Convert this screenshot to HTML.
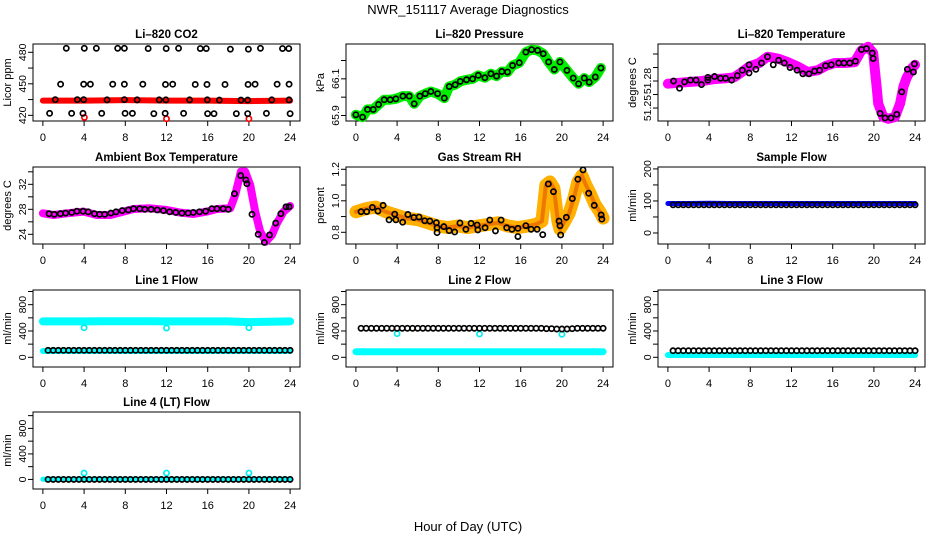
<!DOCTYPE html>
<html>
<head>
<meta charset="utf-8">
<style>
html,body{margin:0;padding:0;background:#fff;}
svg{display:block;}
text{font-family:"Liberation Sans",Arial,sans-serif;}
</style>
</head>
<body>
<svg id="chart" width="936" height="540" viewBox="0 0 936 540" xmlns="http://www.w3.org/2000/svg">
<text x="468" y="14" text-anchor="middle" font-size="13">NWR_151117  Average Diagnostics</text>
<text x="468" y="531" text-anchor="middle" font-size="13">Hour of Day (UTC)</text>
</svg>
<script>
// ---------- data ----------
const xTicks=[0,4,8,12,16,20,24];
// CO2
const co2Hours=[2.27,4.02,5.19,7.26,7.91,10.22,11.97,13.17,15.28,15.86,18.2,19.95,21.12,23.26,23.87,
 1.72,3.96,4.61,6.78,7.91,9.7,11.9,12.6,14.79,15.93,17.68,19.92,20.6,22.74,23.9,
 1.2,3.34,3.96,6.23,7.91,9.15,11.29,11.94,14.24,15.96,17.13,19.23,19.88,22.22,23.9,
 0.65,2.79,3.89,5.71,7.98,8.69,10.77,11.87,13.66,15.99,16.61,18.78,19.88,21.7,24.0];
const co2Vals=[483.8,483.8,483.8,483.8,483.8,483.6,483.6,483.8,483.6,483.6,483,483,483.8,483.6,483.6,
 449.6,449.6,449.6,449.6,449.6,449.6,449.4,449.6,449.4,449.4,449.4,449.4,449.6,449.6,449.6,
 434.9,434.9,434.9,434.7,434.9,434.7,434.7,434.7,434.7,434.7,434.5,434.5,434.5,434.7,434.7,
 421.9,421.9,421.9,421.9,421.9,421.9,421.6,421.9,421.9,421.6,421.6,421.6,421.6,421.9,421.6];
const co2BandHours=[0,4,8,12,16,20,24];
const co2BandVals=[434,434,434.5,434,434,433.5,434];
const co2OutHours=[4.03,12,20];
const co2OutVals=[418,416.7,416.7];
// Pressure
const presHours=[0,0.65,1.13,1.68,2.2,2.75,3.33,3.88,4.56,5.18,5.66,6.21,6.73,7.28,7.93,8.58,9.06,9.64,10.13,10.74,11.33,11.88,12.52,13.11,13.66,14.17,14.72,15.21,15.86,16.5,17.06,17.64,18.19,18.71,19.26,19.81,20.49,21.1,21.62,22.17,22.65,23.24,23.79];
const presVals=[65.904,65.891,65.933,65.933,65.96,65.986,65.986,65.991,66.006,66.006,65.964,66.006,66.019,66.031,66.019,65.995,66.058,66.068,66.086,66.095,66.1,66.119,66.106,66.128,66.115,66.14,66.137,66.173,66.188,66.246,66.259,66.255,66.237,66.192,66.151,66.192,66.146,66.104,66.073,66.104,66.082,66.11,66.159];
// Li-820 temperature
const ltBandHours=[0,1.04,2.18,3.32,4.46,5.6,6.42,7.07,7.88,8.86,9.67,10.65,11.63,12.61,13.58,14.56,15.37,16.19,17.17,18.14,18.79,19.45,19.93,20.1,20.26,20.42,20.91,21.4,22.05,22.54,22.87,23.19,23.68,24];
const ltBandVals=[51.277,51.278,51.279,51.28,51.282,51.283,51.284,51.289,51.296,51.3,51.307,51.305,51.301,51.296,51.29,51.292,51.297,51.3,51.3,51.301,51.314,51.318,51.311,51.292,51.274,51.255,51.24,51.238,51.24,51.255,51.274,51.284,51.294,51.298];
const ltHours=[0.55,1.13,1.62,2.18,2.73,3.26,3.88,3.88,4.53,5.11,5.6,6.19,6.74,7.23,7.88,7.88,8.54,9.09,9.67,10.23,10.75,11.3,11.86,12.54,13.1,13.7,14.24,14.73,15.31,15.86,16.58,17.1,17.66,18.21,18.79,19.28,19.84,19.93,20.6,21.08,21.66,22.22,22.7,23.25,23.84,23.93];
const ltVals=[51.28,51.272,51.279,51.281,51.281,51.276,51.284,51.281,51.285,51.283,51.283,51.281,51.286,51.292,51.298,51.289,51.293,51.3,51.307,51.298,51.303,51.3,51.295,51.292,51.288,51.288,51.291,51.292,51.297,51.298,51.3,51.3,51.3,51.302,51.315,51.316,51.311,51.305,51.244,51.239,51.239,51.243,51.268,51.293,51.29,51.299];
// Ambient box temperature
const abBandHours=[0,1.04,2.33,3.95,5.24,6.54,7.83,8.8,10.42,12.04,13.33,14.63,15.92,16.89,18.19,18.67,19.22,19.64,20.13,20.61,21.1,21.65,22.23,22.72,23.37,24];
const abBandVals=[27.36,27.09,27.36,27.63,27.09,27.09,27.63,28.05,28.16,27.89,27.47,27.25,27.63,28.05,28.16,30.29,34.03,34.03,31.89,27.63,24.43,22.83,23.89,25.76,27.63,28.53];
const abHours=[0.6,1.1,1.7,2.2,2.8,3.3,3.9,4.4,5.0,5.5,6.0,6.6,7.1,7.7,8.3,8.8,9.4,9.9,10.5,11.1,11.7,12.3,12.9,13.5,14.1,14.6,15.2,15.8,16.4,16.9,17.5,18.0,18.6,19.2,19.7,19.8,20.3,20.9,21.5,22.0,22.6,23.1,23.6,23.9];
const abVals=[27.3,27.2,27.3,27.4,27.5,27.7,27.7,27.6,27.3,27.2,27.2,27.4,27.6,27.8,27.9,28.1,28.1,28.0,28.0,27.9,27.8,27.6,27.5,27.4,27.4,27.5,27.6,27.7,28.1,28.1,28.1,28.0,30.5,33.4,32.7,32.1,27.2,24.0,22.7,23.9,25.8,27.3,28.4,28.4];
// Gas stream RH
const rhBandHours=[0,0.97,1.94,2.91,3.88,4.85,6.02,6.99,7.96,8.93,9.9,10.87,11.84,12.82,13.79,14.76,15.73,16.7,17.48,18.06,18.45,18.83,19.22,19.61,19.81,20.19,20.7,21.17,21.55,21.94,22.33,22.72,23.18,23.69,24];
const rhBandVals=[0.93,0.95,0.96,0.93,0.91,0.89,0.88,0.86,0.84,0.83,0.84,0.83,0.84,0.85,0.86,0.84,0.83,0.84,0.85,0.87,1.1,1.12,1.08,0.87,0.82,0.86,0.92,1.02,1.12,1.16,1.1,1.05,0.98,0.93,0.89];
const rhHours=[0.5,1.05,1.6,2.14,2.64,3.22,3.77,3.88,4.54,5.05,5.63,6.13,6.68,7.18,7.81,7.88,7.88,8.54,9.05,9.59,10.1,10.68,11.18,11.77,11.84,12.54,13.0,13.55,14.1,14.64,15.15,15.73,15.73,16.5,17.01,17.59,18.14,18.68,19.18,19.72,19.81,19.88,20.43,21.01,21.55,22.05,22.6,23.14,23.81,23.88];
const rhVals=[0.931,0.931,0.958,0.935,0.971,0.879,0.915,0.879,0.864,0.913,0.894,0.897,0.873,0.871,0.861,0.829,0.798,0.836,0.811,0.802,0.859,0.819,0.857,0.846,0.815,0.829,0.878,0.809,0.878,0.829,0.819,0.825,0.773,0.842,0.819,0.819,0.785,1.107,1.058,0.871,0.842,0.783,0.895,1.014,1.137,1.196,1.048,0.971,0.91,0.884];
// Flows
const flowHours=[0.5,1,1.5,2,2.5,3,3.5,4,4.5,5,5.5,6,6.5,7,7.5,8,8.5,9,9.5,10,10.5,11,11.5,12,12.5,13,13.5,14,14.5,15,15.5,16,16.5,17,17.5,18,18.5,19,19.5,20,20.5,21,21.5,22,22.5,23,23.5,24];
const bandHours=[0,2,4,6,8,10,12,14,16,18,20,22,24];
const outHours=[4,12,20];
const sampleBand=[92,92,93,92,92,92,92,92,92,92,92,92,92];
const sampleBlack=[88,88,88,88,88,88,88,88,88,88,88,88,88,88,88,88,88,88,88,88,88,88,88,88,88,88,88,88,88,88,88,88,88,88,88,88,88,88,88,88,88,88,88,88,88,88,88,88];
const line1BandHigh=[545,545,545,548,548,548,545,545,545,545,535,540,545];
const line1BandLow=[96,96,96,96,96,96,96,96,96,96,96,96,96];
const line1Black=[106,106,106,106,106,106,106,106,106,106,106,106,106,106,106,106,106,106,106,106,106,106,106,106,106,106,106,106,106,106,106,106,106,106,106,106,106,106,106,106,106,106,106,106,106,106,106,106];
const line1Out=[450,445,450];
const line2Band=[85,85,85,85,85,85,85,85,85,85,85,85,85];
const line2Black=[441,441,441,441,441,441,441,441,441,441,441,441,441,441,441,441,441,441,441,441,441,441,441,441,441,441,441,441,441,441,441,441,441,441,441,441,435,435,430,430,430,435,441,441,441,441,441,441];
const line2Out=[360,355,350];
const line3Band=[35,35,35,35,35,35,35,35,35,35,35,35,35];
const line3Black=[100,100,100,100,100,100,100,100,100,100,100,100,100,100,100,100,100,100,100,100,100,100,100,100,100,100,100,100,100,100,100,100,100,100,100,100,100,100,100,100,100,100,100,100,100,100,100,100];
const line4Band=[2,2,2,2,2,2,2,2,2,2,2,2,2];
const line4Black=[0,0,0,0,0,0,0,0,0,0,0,0,0,0,0,0,0,0,0,0,0,0,0,0,0,0,0,0,0,0,0,0,0,0,0,0,0,0,0,0,0,0,0,0,0,0,0,0];
const line4Out=[100,100,100];

// ---------- drawing ----------
const NS='http://www.w3.org/2000/svg';
const svg=document.getElementById('chart');
const colLeft=[33,346,658], rowTop=[44,167,290,412], PW=267, PH=77;
function mk(tag,attrs,parent){const e=document.createElementNS(NS,tag);for(const k in attrs)e.setAttribute(k,attrs[k]);(parent||svg).appendChild(e);return e;}

function panel(name,col,row,title,ylab,ymin,ymax,yticks,ylabels){
  const L=colLeft[col],T=rowTop[row];
  const g=mk('g',{});
  
  
  const x=h=>L+(h+0.96)/25.92*PW;
  const y=v=>T+PH-(v-ymin)/(ymax-ymin)*PH;
  const t=mk('text',{x:L+PW/2,y:T-6,'text-anchor':'middle','font-size':'11.5','font-weight':'bold'},g);
  t.textContent=title;
  
  
  const box=mk('rect',{x:L,y:T,width:PW,height:PH,fill:'none',stroke:'#000','stroke-width':1},g);
  
  
  const xa=mk('g',{},g);
  
  
  xTicks.forEach(h=>{
    mk('line',{x1:x(h),x2:x(h),y1:T+PH,y2:T+PH+5,stroke:'#000'},xa);
    const tl=mk('text',{x:x(h),y:T+PH+20,'text-anchor':'middle','font-size':'11'},xa);
    tl.textContent=h;
    
    
  });
  const ya=mk('g',{},g);
  
  
  yticks.forEach((v,i)=>{
    mk('line',{x1:L-5,x2:L,y1:y(v),y2:y(v),stroke:'#000'},ya);
    if(ylabels[i]!==''){
      const yl=mk('text',{x:0,y:0,'text-anchor':'middle','font-size':'10.5',transform:`translate(${L-7},${y(v)}) rotate(-90)`},ya);
      yl.textContent=ylabels[i];
      
      
    }
  });
  const yt=mk('text',{x:0,y:0,'text-anchor':'middle','font-size':'11',transform:`translate(${L-22},${T+PH/2}) rotate(-90)`},g);
  yt.textContent=ylab;
  
  
  return {g,x,y};
}
function band(p,hs,vs,color,w,name){
  const pts=hs.map((h,i)=>p.x(h).toFixed(1)+','+p.y(vs[i]).toFixed(1)).join(' ');
  const e=mk('polyline',{points:pts,fill:'none',stroke:color,'stroke-width':w,'stroke-linejoin':'round','stroke-linecap':'round'},p.g);
  
  
}
function circles(p,hs,vs,color,name,r,sw){
  const g=mk('g',{},p.g);
  
  
  hs.forEach((h,i)=>{
    const c=mk('circle',{cx:p.x(h),cy:p.y(vs[i]),r:r||2.6,fill:'none',stroke:color,'stroke-width':sw||1.7},g);
    
    
  });
}

// Row 1
let p=panel('li820-co2',0,0,'Li\u2013820 CO2','Licor ppm',414.6,487.9,[420,435,450,465,480],['420','','450','','480']);
band(p,co2BandHours,co2BandVals,'#ff0000',6,'co2-band');
circles(p,co2OutHours,co2OutVals,'#ff0000','co2-outliers');
circles(p,co2Hours,co2Vals,'#000','co2-points');

p=panel('li820-pressure',1,0,'Li\u2013820 Pressure','kPa',65.87,66.29,[65.9,66.0,66.1,66.2],['65.9','','66.1','']);
band(p,presHours,presVals,'#00ee00',10,'pressure-band');
circles(p,presHours,presVals,'#000','pressure-points');

p=panel('li820-temperature',2,0,'Li\u2013820 Temperature','degrees C',51.2356,51.3211,[51.25,51.265,51.28,51.295,51.31],['51.25','','51.28','','']);
band(p,ltBandHours,ltBandVals,'#ff00ff',10,'li820-temp-band');
circles(p,ltHours,ltVals,'#000','li820-temp-points');

// Row 2
p=panel('ambient-box-temperature',0,1,'Ambient Box Temperature','degrees C',22.45,34.77,[24,26,28,30,32,34],['24','','28','','32','']);
band(p,abBandHours,abBandVals,'#ff00ff',8,'ambient-temp-band');
circles(p,abHours,abVals,'#000','ambient-temp-points');

p=panel('gas-stream-rh',1,1,'Gas Stream RH','percent',0.7257,1.2146,[0.8,0.9,1.0,1.1,1.2],['0.8','','1.0','','1.2']);
band(p,rhBandHours,rhBandVals,'#ffb000',13,'rh-band');
band(p,rhBandHours,rhBandVals,'#ee7700',4,'rh-band-core');
circles(p,rhHours,rhVals,'#000','rh-points');

p=panel('sample-flow',2,1,'Sample Flow','ml/min',-34.4,206,[0,50,100,150,200],['0','','100','','200']);
band(p,bandHours,sampleBand,'#0000ff',5,'sample-flow-band');
circles(p,flowHours,sampleBlack,'#000','sample-flow-points');

// Row 3
p=panel('line1-flow',0,2,'Line 1 Flow','ml/min',-147.5,1023,[0,200,400,600,800,1000],['0','','400','','800','']);
band(p,bandHours,line1BandHigh,'#00ffff',8,'line1-band-high');
band(p,bandHours,line1BandLow,'#00ffff',6,'line1-band-low');
circles(p,outHours,line1Out,'#00eeee','line1-outliers');
circles(p,flowHours,line1Black,'#000','line1-points');

p=panel('line2-flow',1,2,'Line 2 Flow','ml/min',-147.5,1023,[0,200,400,600,800,1000],['0','','400','','800','']);
band(p,bandHours,line2Band,'#00ffff',7,'line2-band');
circles(p,outHours,line2Out,'#00eeee','line2-outliers');
circles(p,flowHours,line2Black,'#000','line2-points');

p=panel('line3-flow',2,2,'Line 3 Flow','ml/min',-147.5,1023,[0,200,400,600,800,1000],['0','','400','','800','']);
band(p,bandHours,line3Band,'#00ffff',6,'line3-band');
circles(p,flowHours,line3Black,'#000','line3-points');

// Row 4
p=panel('line4-flow',0,3,'Line 4 (LT) Flow','ml/min',-150,1057,[0,200,400,600,800,1000],['0','','400','','800','']);
band(p,bandHours,line4Band,'#00ffff',5,'line4-band');
circles(p,outHours,line4Out,'#00eeee','line4-outliers');
circles(p,flowHours,line4Black,'#000','line4-points');
</script>
</body>
</html>
